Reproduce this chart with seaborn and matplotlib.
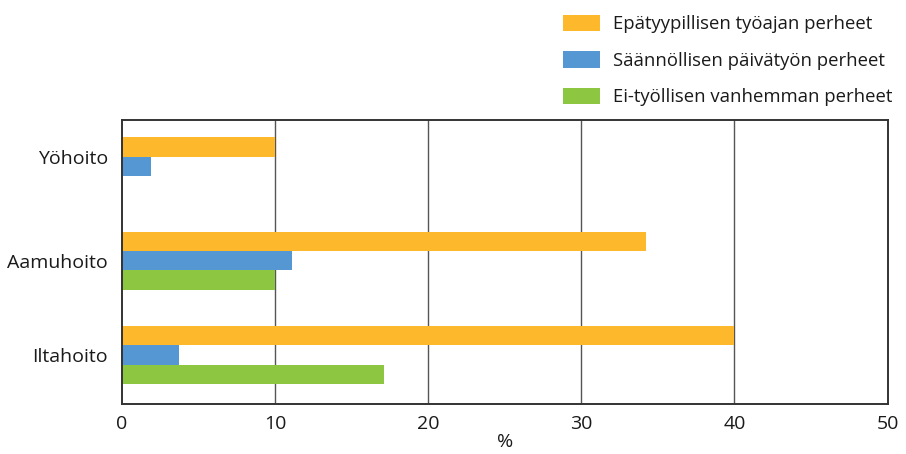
import matplotlib
matplotlib.use("Agg")
import matplotlib.pyplot as plt
import seaborn as sns
import pandas as pd
import numpy as np

categories = ["Yöhoito", "Aamuhoito", "Iltahoito"]
series_names = [
    "Epätyypillisen työajan perheet",
    "Säännöllisen päivätyön perheet",
    "Ei-työllisen vanhemman perheet",
]
epatyypillinen = [10.0, 34.2, 40.0]
saannollinen = [1.9, 11.1, 3.7]
ei_tyollinen = [np.nan, 10.0, 17.1]
x_ticks = [0, 10, 20, 30, 40, 50]
x_label = "%"

colors = ["#FDB92B", "#5597D2", "#8DC641"]
group_width = 0.615

series = [epatyypillinen, saannollinen, ei_tyollinen]
rows = []
for name, vals in zip(series_names, series):
    for cat, v in zip(categories, vals):
        rows.append({"hoito": cat, "ryhmä": name, "arvo": v})
df = pd.DataFrame(rows)

sns.set_theme(style="white")
plt.rcParams["font.family"] = ["Open Sans", "DejaVu Sans"]

fig = plt.figure(figsize=(9.06, 4.54), dpi=100)
ax = fig.add_axes([0.1347, 0.1101, 0.845, 0.6256])

sns.barplot(
    data=df, y="hoito", x="arvo", hue="ryhmä",
    order=categories, hue_order=series_names,
    palette=colors, orient="h", width=group_width,
    saturation=1, errorbar=None, ax=ax, legend=True,
)
for p in ax.patches:
    p.set_edgecolor("none")

# centre each category label on the bars that category actually has
n = len(series_names)
slot = group_width / n
offsets = (np.arange(n) - (n - 1) / 2) * slot
label_pos = []
for i in range(len(categories)):
    present = [offsets[k] for k in range(n) if not np.isnan(series[k][i])]
    label_pos.append(i + float(np.mean(present)))

ax.set_xlim(0, 50)
ax.set_ylim(2.52, -0.49)
ax.set_xticks(x_ticks)
ax.set_yticks(label_pos)
ax.set_yticklabels(categories)
ax.set_xlabel(x_label, fontsize=14, color="#1a1a1a", labelpad=0)
ax.set_ylabel("")
ax.tick_params(axis="both", length=0, labelsize=14, colors="#1a1a1a")
ax.tick_params(axis="y", pad=10)
ax.tick_params(axis="x", pad=8)
for v in x_ticks[1:-1]:
    ax.axvline(v, color="#555555", linewidth=1.0, zorder=0)
for s in ax.spines.values():
    s.set_visible(True)
    s.set_color("#333333")
    s.set_linewidth(1.4)

handles, labels = ax.get_legend_handles_labels()
ax.legend(
    handles, labels, loc="upper left",
    bbox_to_anchor=(563 / 906, 1 - 15 / 454), bbox_transform=fig.transFigure,
    frameon=False, fontsize=13.3, handlelength=2.0, handleheight=0.98,
    handletextpad=0.7, labelspacing=0.97, borderaxespad=0, borderpad=0,
    labelcolor="#1a1a1a",
)

fig.savefig("out.png", dpi=100)
